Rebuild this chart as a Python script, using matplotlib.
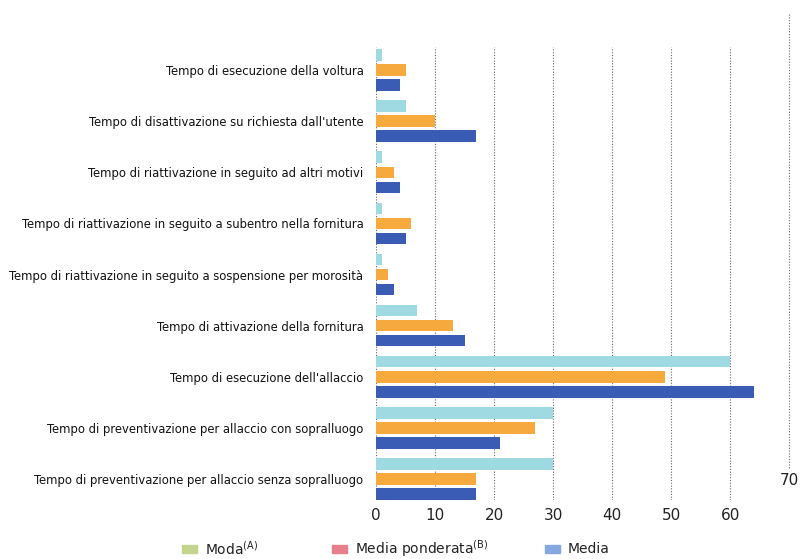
import matplotlib
matplotlib.use("Agg")
import matplotlib.pyplot as plt
from matplotlib import font_manager as fm
import numpy as np

categories = [
    "Tempo di esecuzione della voltura",
    "Tempo di disattivazione su richiesta dall'utente",
    "Tempo di riattivazione in seguito ad altri motivi",
    "Tempo di riattivazione in seguito a subentro nella fornitura",
    "Tempo di riattivazione in seguito a sospensione per morosità",
    "Tempo di attivazione della fornitura",
    "Tempo di esecuzione dell'allaccio",
    "Tempo di preventivazione per allaccio con sopralluogo",
    "Tempo di preventivazione per allaccio senza sopralluogo",
]
moda = [1, 5, 1, 1, 1, 7, 60, 30, 30]
media_ponderata = [5, 10, 3, 6, 2, 13, 49, 27, 17]
media = [4, 17, 4, 5, 3, 15, 64, 21, 17]
xticks = [0, 10, 20, 30, 40, 50, 60]
legend_labels = ["Moda$^{\\mathrm{(A)}}$", "Media ponderata$^{\\mathrm{(B)}}$", "Media"]

c_moda = "#9fd9e2"
c_pond = "#f6aa3e"
c_media = "#3b5cb4"
leg_colors = ["#c3d48e", "#e8808b", "#86a8e0"]

W, H = 803, 559
fig = plt.figure(figsize=(W / 100, H / 100), dpi=100)
left, right, top, bottom = 376, 795, 47, 500
ax = fig.add_axes([left / W, 1 - bottom / H, (right - left) / W, (bottom - top) / H])

y = np.arange(len(categories))
h = 0.225
off = 0.295
ax.barh(y - off, moda, height=h, color=c_moda, zorder=3)
ax.barh(y, media_ponderata, height=h, color=c_pond, zorder=3)
ax.barh(y + off, media, height=h, color=c_media, zorder=3)

ax.set_xlim(0, 71)
ax.set_ylim(8.41, -0.45)

for s in ax.spines.values():
    s.set_visible(False)

for xv in xticks:
    ax.axvline(xv, color="#666666", lw=0.8, ls=(0, (1, 1.5)), zorder=1)
# shifted 70 gridline and label
ax.plot([70, 70], [-1.1, 7.8], color="#666666", lw=0.8, ls=(0, (1, 1.5)),
        clip_on=False, zorder=1)
ax.text(70, 8.02, "70", ha="center", va="center", fontsize=11, color="#222222")

ax.set_xticks(xticks)
ax.set_xticklabels([str(v) for v in xticks], fontsize=11, color="#222222")
ax.tick_params(axis="x", length=0, pad=6)
ax.set_yticks(y)
ax.set_yticklabels(categories, color="#111111")
ax.tick_params(axis="y", length=0, pad=9)

# fit category labels to available width (reference: longest label ~358 px wide)
fig.canvas.draw()
renderer = fig.canvas.get_renderer()
for lab in ax.get_yticklabels():
    lab.set_fontstretch("condensed")
    lab.set_fontsize(9.5)
fig.canvas.draw()
maxw = max(l.get_window_extent(renderer).width for l in ax.get_yticklabels())
if maxw > 358:
    fs = 9.5 * 358 / maxw
    for lab in ax.get_yticklabels():
        lab.set_fontsize(fs)

xs = [182, 332, 545]
for xp, c, lab in zip(xs, leg_colors, legend_labels):
    fig.patches.append(plt.Rectangle((xp / W, 1 - 553 / H), 15 / W, 8 / H,
                                     transform=fig.transFigure, color=c))
    fig.text((xp + 23) / W, 1 - 549 / H, lab, fontsize=10, va="center",
             color="#222222")

fig.savefig("out.png", dpi=100)
